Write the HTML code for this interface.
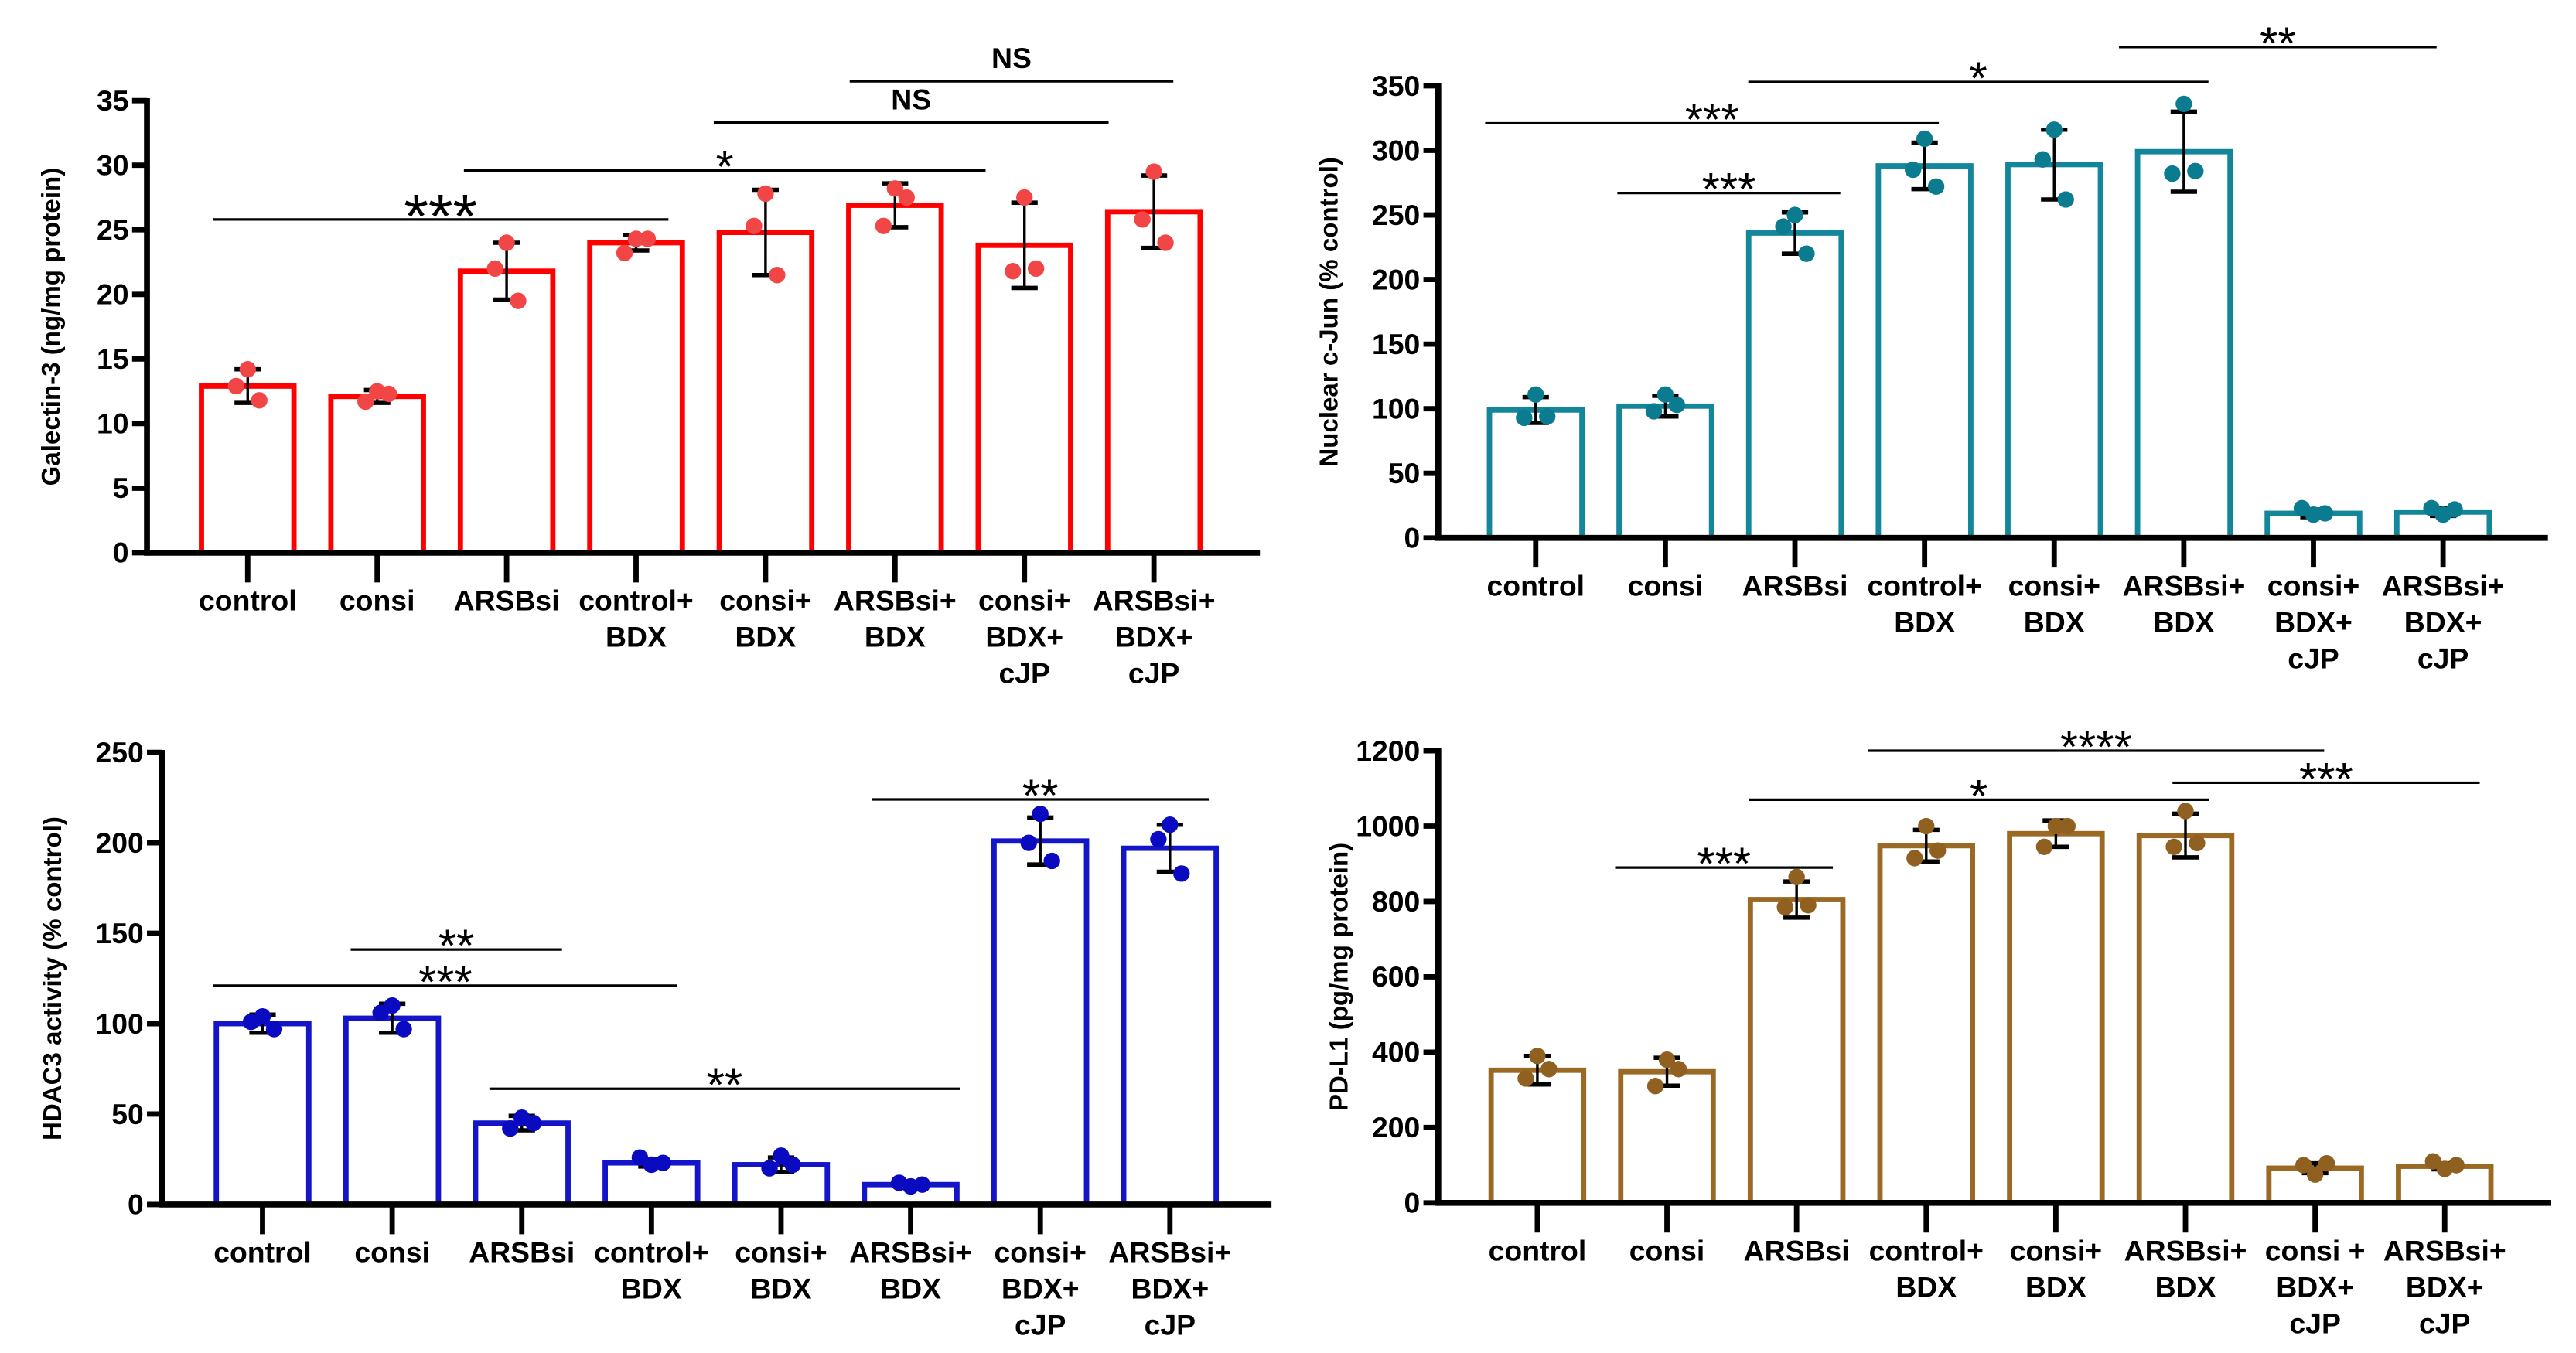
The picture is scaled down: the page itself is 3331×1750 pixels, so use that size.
<!DOCTYPE html>
<html><head><meta charset="utf-8"><style>
html,body{margin:0;padding:0;background:#fff}
svg{display:block}
text{font-family:"Liberation Sans Narrow","Liberation Sans",sans-serif;font-weight:bold;fill:#000}
.ttl{font-family:"Liberation Sans",sans-serif;font-size:15.5px;font-weight:bold}
.sig{font-family:"Liberation Sans",sans-serif;font-weight:normal}
</style></head><body>
<svg id="fig" width="3331" height="1750" viewBox="0 0 1560 820" preserveAspectRatio="none" xmlns="http://www.w3.org/2000/svg"></svg>
<script>
const categories = ["control","consi","ARSBsi","control+|BDX","consi+|BDX","ARSBsi+|BDX","consi+|BDX+|cJP","ARSBsi+|BDX+|cJP"];
const categoriesPD = ["control","consi","ARSBsi","control+|BDX","consi+|BDX","ARSBsi+|BDX","consi +|BDX+|cJP","ARSBsi+|BDX+|cJP"];
const galMeans = [12.9,12.1,21.8,24.0,24.8,26.9,23.8,26.4];
const galSD = [1.3,0.5,2.2,0.6,3.3,1.7,3.3,2.8];
const galPts = [[14.2,12.9,11.8],[12.5,11.7,12.3],[24,22,19.5],[24.3,23.2,24.3],[27.8,25.3,21.5],[28.2,25.3,27.5],[27.5,21.8,22],[29.5,25.8,24]];
const galTicks = [0,5,10,15,20,25,30,35];
const junMeans = [99,102,236,288,289,299,19,20];
const junSD = [10,8,16,18,27,31,3,3];
const junPts = [[111,93,94],[111,98,103],[250,241,220],[309,285,272],[316,293,262],[336,282,284],[18,23,19],[18,23,22]];
const junTicks = [0,50,100,150,200,250,300,350];
const hdMeans = [100,103,45,23,22,11,201,197];
const hdSD = [5,8,4,2,4,1,13,13];
const hdPts = [[104,101,97],[110,106,97],[48,42,45],[22,26,23],[27,20,22],[10,12,11],[216,200,190],[210,202,183]];
const hdTicks = [0,50,100,150,200,250];
const pdMeans = [352,348,805,948,980,975,92,97];
const pdSD = [38,37,48,42,35,58,13,8];
const pdPts = [[390,330,355],[380,310,355],[865,785,790],[1000,915,935],[1000,945,1000],[1040,945,955],[75,100,105],[90,110,100]];
const pdTicks = [0,200,400,600,800,1000,1200];
// significance brackets: [valueLevel, groupA, groupB, label]
const galSig = [[25.8,-0.27,3.25,"***"],[29.6,1.67,5.7,"*"],[33.3,3.6,6.65,"NS"],[36.5,4.65,7.15,"NS"]];
const junSig = [[321,-0.39,3.11,"***"],[267,0.63,2.35,"***"],[353,1.64,5.19,"*"],[380,4.5,6.95,"**"]];
const hdSig = [[141,0.68,2.31,"**"],[121,-0.38,3.2,"***"],[64,1.75,5.38,"**"],[224,4.7,7.3,"**"]];
const pdSig = [[890,0.6,2.28,"***"],[1070,1.63,5.18,"*"],[1200,2.55,6.07,"****"],[1115,4.9,7.27,"***"]];

const NS="http://www.w3.org/2000/svg";
const svg=document.getElementById('fig');
function mk(tag,attrs,parent,txt){const e=document.createElementNS(NS,tag);for(const k in attrs)e.setAttribute(k,attrs[k]);if(txt!==undefined)e.textContent=txt;(parent||svg).appendChild(e);return e;}

function panel(o){
  const g=mk('g',{});
  
  
  const ymax=o.ticks[o.ticks.length-1];
  const Y=v=>o.y0-(v/ymax)*(o.y0-o.yTop);
  const X=i=>o.x0b+i*o.step;
  const bw=56;
  o.means.forEach((m,i)=>{
    const r=mk('rect',{x:X(i)-bw/2,y:Y(m),width:bw,height:o.y0-Y(m),fill:'#fff',stroke:o.color,'stroke-width':3.2},g);
    
    
  });
  o.means.forEach((m,i)=>{
    const e=mk('g',{stroke:'#000'},g);
    
    
    mk('line',{x1:X(i),x2:X(i),y1:Y(m+o.sd[i]),y2:Y(m-o.sd[i]),'stroke-width':1.6},e);
    mk('line',{x1:X(i)-8,x2:X(i)+8,y1:Y(m+o.sd[i]),y2:Y(m+o.sd[i]),'stroke-width':2.6},e);
    mk('line',{x1:X(i)-8,x2:X(i)+8,y1:Y(m-o.sd[i]),y2:Y(m-o.sd[i]),'stroke-width':2.6},e);
  });
  const jit=[0,-7,7];
  o.pts.forEach((arr,i)=>{
    arr.forEach((v,j)=>{
      const c=mk('circle',{cx:X(i)+jit[j],cy:Y(v),r:5,fill:o.dot},g);
      
      
    });
  });
  const ya=mk('line',{x1:o.ax,x2:o.ax,y1:o.yTop-1.5,y2:o.y0+1.7,stroke:'#000','stroke-width':3.6},g);
  
  
  const xa=mk('line',{x1:o.ax-1.8,x2:o.xEnd,y1:o.y0,y2:o.y0,stroke:'#000','stroke-width':3.6},g);
  
  
  o.ticks.forEach(t=>{
    mk('line',{x1:o.ax-9,x2:o.ax,y1:Y(t),y2:Y(t),stroke:'#000','stroke-width':3.2},g);
    const tl=mk('text',{x:o.ax-11,y:Y(t)+6,'text-anchor':'end','font-size':17.5},g,t);
    
    
  });
  o.cats.forEach((c,i)=>{
    mk('line',{x1:X(i),x2:X(i),y1:o.y0,y2:o.y0+18,stroke:'#000','stroke-width':3.2},g);
    c.split('|').forEach((ln,k)=>{
      const tl=mk('text',{x:X(i),y:o.y0+35+k*22,'text-anchor':'middle','font-size':17.5},g,ln);
      
      
    });
  });
  const cy=(o.y0+o.yTop)/2;
  const tt=mk('text',{x:o.titleX,y:cy,'text-anchor':'middle',class:'ttl',transform:`rotate(-90 ${o.titleX} ${cy})`},g,o.title);
  
  
  o.sig.forEach(s=>{
    const ly=Y(s[0]);
    const x1=o.x0b+s[1]*o.step,x2=o.x0b+s[2]*o.step;
    const sl=mk('line',{x1:x1,x2:x2,y1:ly,y2:ly,stroke:'#000','stroke-width':1.5},g);
    
    
    const isNS=s[3]==='NS';
    const big=o.key==='gal'&&s[3]==='***';
    const fs=big?38:28;
    const st=mk('text',{x:(x1+x2)/2,y:isNS?ly-8:ly+0.58*fs-(big?11:9),'text-anchor':'middle',class:isNS?'':'sig','font-size':isNS?17.5:fs},g,s[3]);
    
    
  });
}
panel({name:'galectin3-chart',key:'gal',means:galMeans,sd:galSD,pts:galPts,ticks:galTicks,cats:categories,sig:galSig,
  ax:89,y0:335,yTop:61,x0b:150,step:78.4,xEnd:763,color:'#ff0000',dot:'#f24646',title:'Galectin-3 (ng/mg protein)',titleX:36});
panel({name:'cjun-chart',key:'jun',means:junMeans,sd:junSD,pts:junPts,ticks:junTicks,cats:categories,sig:junSig,
  ax:871,y0:326,yTop:52,x0b:930,step:78.5,xEnd:1543,color:'#13869a',dot:'#0b7b8f',title:'Nuclear c-Jun (% control)',titleX:810});
panel({name:'hdac3-chart',key:'hd',means:hdMeans,sd:hdSD,pts:hdPts,ticks:hdTicks,cats:categories,sig:hdSig,
  ax:98,y0:730,yTop:456,x0b:159,step:78.5,xEnd:770,color:'#1414c8',dot:'#0a0ac0',title:'HDAC3 activity (% control)',titleX:37});
panel({name:'pdl1-chart',key:'pd',means:pdMeans,sd:pdSD,pts:pdPts,ticks:pdTicks,cats:categoriesPD,sig:pdSig,
  ax:871,y0:729,yTop:455,x0b:931,step:78.5,xEnd:1545,color:'#9a6a24',dot:'#8f6020',title:'PD-L1 (pg/mg protein)',titleX:816});
</script>
</body></html>
